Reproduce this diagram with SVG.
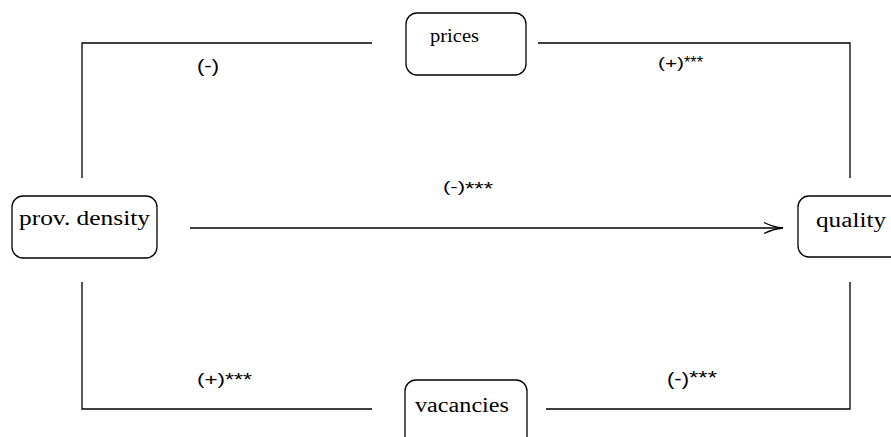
<svg xmlns="http://www.w3.org/2000/svg" width="891" height="437" viewBox="0 0 891 437">
<style>
.box{fill:#fff;stroke:#000;stroke-width:1.3}
.ln{fill:none;stroke:#000;stroke-width:1.3}
.nt{font-family:"Liberation Serif","DejaVu Serif",serif;fill:#000}
.lb{font-family:"Liberation Sans",Arial,sans-serif;fill:#000}
</style>
<defs>
<marker id="arr" markerWidth="22" markerHeight="14" refX="20" refY="7" orient="auto" markerUnits="userSpaceOnUse">
<path d="M1,1.5 Q10,6 20,7 Q10,8 1,12.5" fill="none" stroke="#000" stroke-width="1.3"/>
</marker>
</defs>
<rect width="891" height="437" fill="#fff"/>
<g id="connectors">
<path class="ln" d="M82,178 V43 H372"/>
<path class="ln" d="M538,43 H850 V178"/>
<path class="ln" d="M82,282 V409 H372"/>
<path class="ln" d="M546,409 H850 V282"/>
<path class="ln" d="M190,228 H783" marker-end="url(#arr)"/>
<text class="lb" x="197" y="72" font-size="19" textLength="22" lengthAdjust="spacingAndGlyphs">(-)</text>
<text class="lb" x="658" y="68" font-size="15" textLength="26" lengthAdjust="spacingAndGlyphs">(+)</text>
<text class="lb" x="684" y="67.5" font-size="16" textLength="19" lengthAdjust="spacingAndGlyphs">***</text>
<text class="lb" x="443" y="192" font-size="15" textLength="22" lengthAdjust="spacingAndGlyphs">(-)</text>
<text class="lb" x="465" y="194.5" font-size="19" textLength="28" lengthAdjust="spacingAndGlyphs">***</text>
<text class="lb" x="197" y="385" font-size="16" textLength="28" lengthAdjust="spacingAndGlyphs">(+)</text>
<text class="lb" x="225" y="385.5" font-size="19" textLength="27" lengthAdjust="spacingAndGlyphs">***</text>
<text class="lb" x="667" y="385" font-size="18" textLength="22" lengthAdjust="spacingAndGlyphs">(-)</text>
<text class="lb" x="689" y="384" font-size="19" textLength="28" lengthAdjust="spacingAndGlyphs">***</text>
</g>
<g id="node-density">
<rect class="box" x="12" y="196" width="145" height="62" rx="11"/>
<text class="nt" x="19" y="225" font-size="20" textLength="131" lengthAdjust="spacingAndGlyphs">prov. density</text>
</g>
<g id="node-prices">
<rect class="box" x="406" y="13" width="120" height="62" rx="11"/>
<text class="nt" x="430" y="42" font-size="19" textLength="49" lengthAdjust="spacingAndGlyphs">prices</text>
</g>
<g id="node-quality">
<rect class="box" x="798" y="196" width="110" height="61" rx="11"/>
<text class="nt" x="816" y="227" font-size="20" textLength="70" lengthAdjust="spacingAndGlyphs">quality</text>
</g>
<g id="node-vacancies">
<rect class="box" x="405" y="380" width="122" height="70" rx="11"/>
<text class="nt" x="415" y="412" font-size="20" textLength="94" lengthAdjust="spacingAndGlyphs">vacancies</text>
</g>
</svg>
